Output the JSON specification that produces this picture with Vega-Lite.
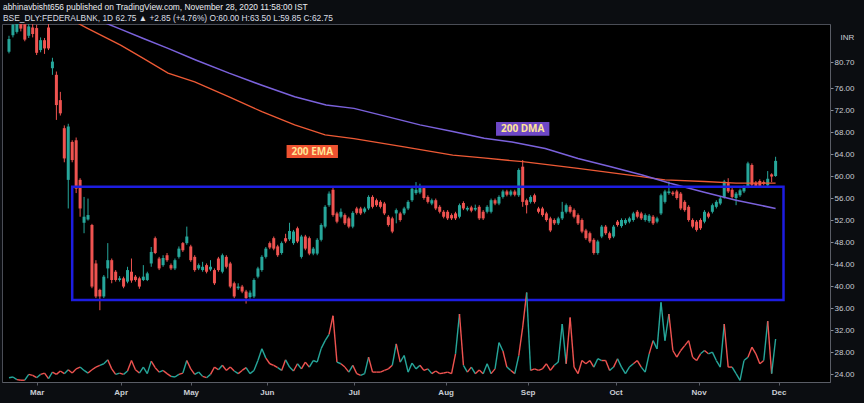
{
  "$schema": "https://vega.github.io/schema/vega-lite/v6.json",
  "width": 828,
  "height": 358,
  "autosize": {"type": "none"},
  "padding": {"left": 2, "top": 24, "right": 34, "bottom": 21},
  "background": "#0b0d11",
  "config": {
    "view": {"fill": "#000000", "stroke": "#4a4d56", "strokeWidth": 1},
    "font": "Liberation Sans"
  },
  "title": {
    "text": "abhinavbisht656 published on TradingView.com, November 28, 2020 11:58:00 IST",
    "subtitle": "BSE_DLY:FEDERALBNK, 1D 62.75 ▲ +2.85 (+4.76%) O:60.00 H:63.50 L:59.85 C:62.75",
    "anchor": "start",
    "frame": "group",
    "offset": 2,
    "dx": 1,
    "font": "Liberation Sans",
    "subtitleFont": "Liberation Sans",
    "fontSize": 8.4,
    "subtitleFontSize": 8.4,
    "fontWeight": "normal",
    "color": "#eceef2",
    "subtitleColor": "#dcdfe5",
    "subtitlePadding": 2
  },
  "datasets": {
    "bars": [
      {"i":0,"o":82.6,"h":85.5,"l":82.3,"c":84.9,"v":0.36,"d":"u"},
      {"i":1,"o":85.6,"h":88.5,"l":85.2,"c":87.5,"v":0.42,"d":"u"},
      {"i":2,"o":86.2,"h":88.8,"l":85.9,"c":87.8,"v":0.2,"d":"u"},
      {"i":3,"o":87.9,"h":88.6,"l":86.3,"c":86.8,"v":0.15,"d":"d"},
      {"i":4,"o":87.6,"h":88.0,"l":84.5,"c":84.8,"v":0.15,"d":"d"},
      {"i":5,"o":85.5,"h":88.0,"l":85.1,"c":87.2,"v":0.64,"d":"u"},
      {"i":6,"o":87.0,"h":88.2,"l":85.2,"c":85.8,"v":0.55,"d":"d"},
      {"i":7,"o":86.9,"h":87.5,"l":82.0,"c":82.4,"v":0.36,"d":"d"},
      {"i":8,"o":82.9,"h":85.2,"l":82.5,"c":84.7,"v":0.64,"d":"u"},
      {"i":9,"o":84.7,"h":85.1,"l":82.2,"c":83.2,"v":0.75,"d":"d"},
      {"i":10,"o":87.0,"h":87.8,"l":82.9,"c":83.2,"v":0.28,"d":"d"},
      {"i":11,"o":79.6,"h":81.5,"l":78.4,"c":80.8,"v":0.83,"d":"u"},
      {"i":12,"o":78.4,"h":79.0,"l":70.2,"c":72.9,"v":0.64,"d":"d"},
      {"i":13,"o":73.8,"h":75.3,"l":71.0,"c":71.4,"v":0.92,"d":"d"},
      {"i":14,"o":68.7,"h":69.2,"l":62.5,"c":63.2,"v":0.7,"d":"d"},
      {"i":15,"o":59.3,"h":69.5,"l":54.1,"c":69.0,"v":1.03,"d":"u"},
      {"i":16,"o":66.2,"h":66.5,"l":62.5,"c":62.9,"v":0.75,"d":"d"},
      {"i":17,"o":66.5,"h":67.0,"l":56.9,"c":57.7,"v":1.1,"d":"d"},
      {"i":18,"o":59.3,"h":59.6,"l":52.6,"c":54.1,"v":1.25,"d":"d"},
      {"i":19,"o":51.5,"h":56.2,"l":49.6,"c":52.6,"v":0.97,"d":"u"},
      {"i":20,"o":52.1,"h":55.9,"l":51.9,"c":52.9,"v":0.75,"d":"u"},
      {"i":21,"o":51.1,"h":51.3,"l":39.6,"c":39.9,"v":1.03,"d":"d"},
      {"i":22,"o":44.1,"h":44.7,"l":37.8,"c":38.1,"v":1.25,"d":"d"},
      {"i":23,"o":39.3,"h":39.5,"l":35.6,"c":38.1,"v":1.4,"d":"d"},
      {"i":24,"o":38.1,"h":42.0,"l":37.8,"c":41.7,"v":1.53,"d":"u"},
      {"i":25,"o":43.2,"h":47.8,"l":41.4,"c":44.7,"v":1.86,"d":"u"},
      {"i":26,"o":44.7,"h":45.0,"l":40.5,"c":41.1,"v":1.1,"d":"d"},
      {"i":27,"o":42.6,"h":42.9,"l":40.8,"c":41.1,"v":0.64,"d":"d"},
      {"i":28,"o":41.1,"h":41.8,"l":40.8,"c":41.4,"v":0.75,"d":"u"},
      {"i":29,"o":41.4,"h":41.7,"l":39.6,"c":39.9,"v":0.64,"d":"d"},
      {"i":30,"o":40.8,"h":43.5,"l":40.5,"c":42.9,"v":0.92,"d":"u"},
      {"i":31,"o":42.6,"h":45.0,"l":40.6,"c":41.0,"v":1.8,"d":"d"},
      {"i":32,"o":41.7,"h":42.0,"l":40.8,"c":41.1,"v":1.03,"d":"d"},
      {"i":33,"o":41.4,"h":41.7,"l":39.5,"c":39.9,"v":0.75,"d":"d"},
      {"i":34,"o":41.1,"h":43.8,"l":40.9,"c":41.7,"v":1.25,"d":"u"},
      {"i":35,"o":41.1,"h":42.6,"l":40.9,"c":42.3,"v":0.7,"d":"u"},
      {"i":36,"o":44.1,"h":47.1,"l":43.5,"c":46.2,"v":1.75,"d":"u"},
      {"i":37,"o":48.7,"h":49.0,"l":45.8,"c":46.0,"v":1.2,"d":"d"},
      {"i":38,"o":45.0,"h":45.3,"l":42.9,"c":43.2,"v":0.83,"d":"d"},
      {"i":39,"o":43.8,"h":45.6,"l":43.5,"c":45.1,"v":0.97,"d":"u"},
      {"i":40,"o":45.6,"h":46.0,"l":44.4,"c":44.7,"v":0.7,"d":"d"},
      {"i":41,"o":43.8,"h":44.1,"l":42.9,"c":43.2,"v":0.47,"d":"d"},
      {"i":42,"o":43.2,"h":45.0,"l":42.9,"c":44.7,"v":0.42,"d":"u"},
      {"i":43,"o":45.3,"h":47.2,"l":45.0,"c":46.8,"v":0.64,"d":"u"},
      {"i":44,"o":47.8,"h":48.0,"l":46.2,"c":46.5,"v":0.75,"d":"d"},
      {"i":45,"o":47.8,"h":50.8,"l":47.5,"c":49.0,"v":1.8,"d":"u"},
      {"i":46,"o":47.2,"h":47.5,"l":44.4,"c":44.7,"v":1.1,"d":"d"},
      {"i":47,"o":45.3,"h":45.6,"l":42.6,"c":42.9,"v":0.64,"d":"d"},
      {"i":48,"o":43.2,"h":44.1,"l":42.9,"c":43.8,"v":0.83,"d":"u"},
      {"i":49,"o":42.9,"h":44.4,"l":42.6,"c":43.5,"v":0.47,"d":"u"},
      {"i":50,"o":43.8,"h":44.1,"l":42.3,"c":42.6,"v":0.36,"d":"d"},
      {"i":51,"o":43.0,"h":44.7,"l":42.7,"c":43.5,"v":0.64,"d":"u"},
      {"i":52,"o":42.9,"h":43.2,"l":40.2,"c":40.5,"v":1.25,"d":"d"},
      {"i":53,"o":45.0,"h":45.3,"l":42.6,"c":42.9,"v":1.03,"d":"d"},
      {"i":54,"o":42.6,"h":45.9,"l":42.3,"c":45.6,"v":1.4,"d":"u"},
      {"i":55,"o":45.3,"h":45.6,"l":43.2,"c":43.5,"v":0.97,"d":"d"},
      {"i":56,"o":44.1,"h":44.4,"l":39.6,"c":39.9,"v":1.25,"d":"d"},
      {"i":57,"o":40.5,"h":40.8,"l":37.8,"c":38.1,"v":0.92,"d":"d"},
      {"i":58,"o":39.6,"h":40.5,"l":39.3,"c":39.9,"v":0.7,"d":"u"},
      {"i":59,"o":39.9,"h":40.2,"l":38.7,"c":39.0,"v":0.97,"d":"d"},
      {"i":60,"o":39.0,"h":39.3,"l":36.8,"c":37.8,"v":1.2,"d":"d"},
      {"i":61,"o":38.0,"h":39.2,"l":37.7,"c":38.8,"v":0.7,"d":"u"},
      {"i":62,"o":38.1,"h":41.4,"l":37.8,"c":41.1,"v":0.97,"d":"u"},
      {"i":63,"o":41.7,"h":43.5,"l":41.4,"c":43.2,"v":1.8,"d":"u"},
      {"i":64,"o":42.9,"h":45.6,"l":42.6,"c":45.3,"v":2.78,"d":"u"},
      {"i":65,"o":45.3,"h":47.1,"l":45.0,"c":46.8,"v":2.0,"d":"u"},
      {"i":66,"o":47.8,"h":48.1,"l":46.7,"c":47.0,"v":1.53,"d":"d"},
      {"i":67,"o":48.7,"h":49.0,"l":46.5,"c":46.8,"v":1.4,"d":"d"},
      {"i":68,"o":47.2,"h":47.5,"l":45.3,"c":45.6,"v":1.2,"d":"d"},
      {"i":69,"o":46.0,"h":48.1,"l":45.7,"c":47.8,"v":0.97,"d":"u"},
      {"i":70,"o":48.7,"h":49.5,"l":47.8,"c":48.1,"v":1.86,"d":"d"},
      {"i":71,"o":48.5,"h":51.5,"l":48.2,"c":50.0,"v":1.25,"d":"u"},
      {"i":72,"o":47.8,"h":50.2,"l":47.5,"c":49.9,"v":0.92,"d":"u"},
      {"i":73,"o":50.5,"h":50.8,"l":47.8,"c":48.1,"v":1.53,"d":"d"},
      {"i":74,"o":45.3,"h":49.3,"l":45.0,"c":49.0,"v":1.1,"d":"u"},
      {"i":75,"o":49.0,"h":49.3,"l":46.5,"c":46.8,"v":1.67,"d":"d"},
      {"i":76,"o":48.7,"h":49.0,"l":45.6,"c":45.9,"v":1.25,"d":"d"},
      {"i":77,"o":45.9,"h":47.1,"l":45.6,"c":46.8,"v":1.8,"d":"u"},
      {"i":78,"o":45.9,"h":48.7,"l":45.6,"c":48.4,"v":1.67,"d":"u"},
      {"i":79,"o":48.4,"h":51.4,"l":48.1,"c":51.1,"v":2.8,"d":"u"},
      {"i":80,"o":50.8,"h":54.7,"l":50.5,"c":54.4,"v":3.47,"d":"u"},
      {"i":81,"o":54.7,"h":57.2,"l":54.4,"c":56.8,"v":4.0,"d":"u"},
      {"i":82,"o":57.5,"h":58.1,"l":52.6,"c":52.9,"v":5.55,"d":"d"},
      {"i":83,"o":53.2,"h":53.5,"l":51.4,"c":51.7,"v":1.67,"d":"d"},
      {"i":84,"o":52.6,"h":54.1,"l":52.3,"c":53.5,"v":1.53,"d":"u"},
      {"i":85,"o":52.9,"h":53.2,"l":51.1,"c":51.4,"v":1.25,"d":"d"},
      {"i":86,"o":52.3,"h":52.6,"l":50.5,"c":50.8,"v":0.83,"d":"d"},
      {"i":87,"o":50.8,"h":53.6,"l":50.5,"c":53.3,"v":1.4,"d":"u"},
      {"i":88,"o":54.1,"h":54.4,"l":53.0,"c":53.3,"v":0.7,"d":"d"},
      {"i":89,"o":54.1,"h":54.4,"l":52.9,"c":53.2,"v":0.55,"d":"d"},
      {"i":90,"o":53.5,"h":54.4,"l":53.2,"c":54.1,"v":0.7,"d":"u"},
      {"i":91,"o":54.1,"h":56.5,"l":53.8,"c":56.2,"v":2.08,"d":"u"},
      {"i":92,"o":56.2,"h":56.5,"l":54.1,"c":54.4,"v":0.83,"d":"d"},
      {"i":93,"o":55.6,"h":55.9,"l":54.4,"c":54.7,"v":0.83,"d":"d"},
      {"i":94,"o":55.3,"h":55.6,"l":54.1,"c":54.4,"v":0.83,"d":"d"},
      {"i":95,"o":55.0,"h":55.3,"l":52.9,"c":53.2,"v":0.97,"d":"d"},
      {"i":96,"o":52.6,"h":52.9,"l":50.8,"c":51.1,"v":1.1,"d":"d"},
      {"i":97,"o":52.3,"h":52.6,"l":49.6,"c":49.9,"v":1.4,"d":"d"},
      {"i":98,"o":53.2,"h":54.1,"l":51.4,"c":53.8,"v":3.2,"d":"u"},
      {"i":99,"o":53.2,"h":53.5,"l":51.7,"c":52.0,"v":1.67,"d":"d"},
      {"i":100,"o":53.2,"h":54.4,"l":52.9,"c":54.1,"v":2.22,"d":"u"},
      {"i":101,"o":54.1,"h":55.6,"l":53.8,"c":55.3,"v":0.83,"d":"u"},
      {"i":102,"o":55.6,"h":58.0,"l":55.3,"c":57.7,"v":1.58,"d":"u"},
      {"i":103,"o":56.9,"h":58.9,"l":56.6,"c":57.5,"v":1.1,"d":"u"},
      {"i":104,"o":57.0,"h":58.6,"l":56.7,"c":57.8,"v":1.4,"d":"u"},
      {"i":105,"o":57.8,"h":58.1,"l":55.7,"c":56.0,"v":0.97,"d":"d"},
      {"i":106,"o":56.2,"h":56.5,"l":55.0,"c":55.3,"v":1.1,"d":"d"},
      {"i":107,"o":55.0,"h":55.9,"l":54.7,"c":55.6,"v":0.7,"d":"u"},
      {"i":108,"o":55.6,"h":55.9,"l":53.8,"c":54.1,"v":0.92,"d":"d"},
      {"i":109,"o":54.4,"h":54.7,"l":53.2,"c":53.5,"v":0.7,"d":"d"},
      {"i":110,"o":53.5,"h":53.8,"l":52.3,"c":52.6,"v":0.75,"d":"d"},
      {"i":111,"o":53.5,"h":53.8,"l":52.0,"c":52.3,"v":0.83,"d":"d"},
      {"i":112,"o":52.9,"h":53.2,"l":52.0,"c":52.3,"v":0.7,"d":"d"},
      {"i":113,"o":53.2,"h":53.5,"l":52.0,"c":52.3,"v":2.36,"d":"d"},
      {"i":114,"o":52.6,"h":55.0,"l":52.3,"c":54.7,"v":5.7,"d":"u"},
      {"i":115,"o":55.1,"h":55.4,"l":53.8,"c":54.1,"v":1.4,"d":"d"},
      {"i":116,"o":53.9,"h":54.5,"l":53.6,"c":54.2,"v":0.83,"d":"u"},
      {"i":117,"o":54.3,"h":54.6,"l":53.4,"c":53.7,"v":1.25,"d":"d"},
      {"i":118,"o":53.9,"h":54.8,"l":53.6,"c":54.2,"v":0.7,"d":"u"},
      {"i":119,"o":54.4,"h":54.7,"l":52.0,"c":52.3,"v":1.0,"d":"d"},
      {"i":120,"o":53.5,"h":53.8,"l":52.0,"c":52.3,"v":0.7,"d":"d"},
      {"i":121,"o":53.5,"h":54.7,"l":53.2,"c":54.4,"v":1.53,"d":"u"},
      {"i":122,"o":53.5,"h":55.9,"l":53.2,"c":55.6,"v":0.7,"d":"u"},
      {"i":123,"o":55.6,"h":55.9,"l":54.7,"c":55.0,"v":1.1,"d":"d"},
      {"i":124,"o":55.0,"h":56.5,"l":54.7,"c":56.2,"v":3.3,"d":"u"},
      {"i":125,"o":56.2,"h":57.5,"l":55.9,"c":57.2,"v":2.6,"d":"u"},
      {"i":126,"o":57.2,"h":57.5,"l":56.3,"c":56.6,"v":1.25,"d":"d"},
      {"i":127,"o":56.6,"h":57.5,"l":56.3,"c":57.2,"v":0.97,"d":"u"},
      {"i":128,"o":57.2,"h":57.5,"l":56.3,"c":56.6,"v":0.7,"d":"d"},
      {"i":129,"o":56.5,"h":61.4,"l":56.2,"c":61.1,"v":2.2,"d":"u"},
      {"i":130,"o":61.7,"h":62.9,"l":54.4,"c":55.3,"v":4.6,"d":"d"},
      {"i":131,"o":55.6,"h":55.9,"l":53.2,"c":54.7,"v":7.5,"d":"d"},
      {"i":132,"o":55.3,"h":56.5,"l":55.0,"c":56.2,"v":0.97,"d":"u"},
      {"i":133,"o":56.5,"h":56.8,"l":55.0,"c":55.3,"v":1.1,"d":"d"},
      {"i":134,"o":54.1,"h":54.4,"l":53.2,"c":53.5,"v":0.97,"d":"d"},
      {"i":135,"o":54.1,"h":54.4,"l":52.6,"c":52.9,"v":1.1,"d":"d"},
      {"i":136,"o":53.2,"h":53.5,"l":51.7,"c":52.0,"v":1.53,"d":"d"},
      {"i":137,"o":52.3,"h":52.6,"l":49.8,"c":50.1,"v":0.97,"d":"d"},
      {"i":138,"o":52.0,"h":52.3,"l":51.1,"c":51.4,"v":1.4,"d":"d"},
      {"i":139,"o":51.4,"h":52.6,"l":51.1,"c":52.3,"v":1.67,"d":"u"},
      {"i":140,"o":52.3,"h":55.3,"l":52.0,"c":53.5,"v":4.86,"d":"u"},
      {"i":141,"o":53.5,"h":55.0,"l":53.2,"c":54.7,"v":1.53,"d":"u"},
      {"i":142,"o":54.4,"h":54.7,"l":53.2,"c":53.5,"v":5.4,"d":"d"},
      {"i":143,"o":53.8,"h":54.1,"l":52.3,"c":52.6,"v":1.25,"d":"d"},
      {"i":144,"o":52.9,"h":53.2,"l":51.1,"c":51.4,"v":0.7,"d":"d"},
      {"i":145,"o":52.0,"h":52.3,"l":49.6,"c":49.9,"v":1.8,"d":"d"},
      {"i":146,"o":50.1,"h":50.4,"l":48.4,"c":48.7,"v":1.53,"d":"d"},
      {"i":147,"o":49.6,"h":49.9,"l":47.8,"c":48.1,"v":1.8,"d":"d"},
      {"i":148,"o":48.4,"h":48.7,"l":45.7,"c":46.0,"v":1.25,"d":"d"},
      {"i":149,"o":46.0,"h":48.4,"l":45.7,"c":48.1,"v":1.95,"d":"u"},
      {"i":150,"o":49.0,"h":51.1,"l":48.7,"c":50.8,"v":1.8,"d":"u"},
      {"i":151,"o":50.8,"h":51.1,"l":49.3,"c":49.6,"v":1.8,"d":"d"},
      {"i":152,"o":49.6,"h":49.9,"l":48.4,"c":48.7,"v":0.97,"d":"d"},
      {"i":153,"o":49.0,"h":51.1,"l":48.7,"c":50.8,"v":1.25,"d":"u"},
      {"i":154,"o":51.7,"h":52.0,"l":50.8,"c":51.1,"v":1.95,"d":"d"},
      {"i":155,"o":50.9,"h":52.3,"l":50.6,"c":52.0,"v":1.25,"d":"u"},
      {"i":156,"o":51.4,"h":52.3,"l":51.1,"c":52.0,"v":0.7,"d":"u"},
      {"i":157,"o":51.7,"h":52.6,"l":51.4,"c":52.3,"v":1.25,"d":"u"},
      {"i":158,"o":52.0,"h":53.5,"l":51.7,"c":53.2,"v":1.53,"d":"u"},
      {"i":159,"o":53.5,"h":53.8,"l":52.3,"c":52.6,"v":1.8,"d":"d"},
      {"i":160,"o":53.2,"h":53.5,"l":52.0,"c":52.3,"v":1.25,"d":"d"},
      {"i":161,"o":52.0,"h":53.2,"l":51.7,"c":52.9,"v":0.83,"d":"u"},
      {"i":162,"o":51.8,"h":53.1,"l":51.5,"c":52.8,"v":2.36,"d":"u"},
      {"i":163,"o":52.6,"h":52.9,"l":51.1,"c":51.4,"v":3.47,"d":"d"},
      {"i":164,"o":51.7,"h":52.6,"l":51.4,"c":52.3,"v":2.78,"d":"u"},
      {"i":165,"o":53.2,"h":56.8,"l":52.9,"c":56.5,"v":6.67,"d":"u"},
      {"i":166,"o":55.3,"h":57.5,"l":55.0,"c":57.2,"v":3.47,"d":"u"},
      {"i":167,"o":56.9,"h":59.0,"l":56.6,"c":57.2,"v":5.7,"d":"u"},
      {"i":168,"o":57.0,"h":57.3,"l":56.4,"c":56.7,"v":2.64,"d":"d"},
      {"i":169,"o":57.2,"h":57.5,"l":55.7,"c":56.0,"v":2.08,"d":"d"},
      {"i":170,"o":56.8,"h":57.1,"l":53.8,"c":54.1,"v":2.64,"d":"d"},
      {"i":171,"o":55.3,"h":55.6,"l":53.5,"c":53.8,"v":3.05,"d":"d"},
      {"i":172,"o":54.4,"h":54.7,"l":51.7,"c":52.0,"v":3.47,"d":"d"},
      {"i":173,"o":52.0,"h":52.3,"l":50.5,"c":50.8,"v":2.08,"d":"d"},
      {"i":174,"o":51.7,"h":52.0,"l":49.9,"c":50.2,"v":1.8,"d":"d"},
      {"i":175,"o":52.0,"h":52.3,"l":50.2,"c":50.5,"v":2.36,"d":"d"},
      {"i":176,"o":51.7,"h":53.8,"l":51.4,"c":53.5,"v":2.64,"d":"u"},
      {"i":177,"o":53.2,"h":53.5,"l":52.3,"c":52.6,"v":2.36,"d":"d"},
      {"i":178,"o":53.5,"h":55.0,"l":53.2,"c":54.7,"v":2.5,"d":"u"},
      {"i":179,"o":54.4,"h":55.6,"l":54.1,"c":55.3,"v":1.8,"d":"u"},
      {"i":180,"o":55.0,"h":56.2,"l":54.7,"c":55.9,"v":1.25,"d":"u"},
      {"i":181,"o":56.2,"h":59.3,"l":55.9,"c":59.0,"v":4.86,"d":"u"},
      {"i":182,"o":58.7,"h":59.6,"l":56.9,"c":57.2,"v":1.25,"d":"d"},
      {"i":183,"o":57.5,"h":57.8,"l":55.9,"c":56.2,"v":1.25,"d":"d"},
      {"i":184,"o":56.0,"h":57.1,"l":54.7,"c":56.8,"v":0.7,"d":"u"},
      {"i":185,"o":56.5,"h":57.7,"l":56.2,"c":57.4,"v":0.14,"d":"u"},
      {"i":186,"o":57.2,"h":58.3,"l":56.9,"c":58.0,"v":1.8,"d":"u"},
      {"i":187,"o":58.1,"h":62.6,"l":57.8,"c":62.3,"v":2.08,"d":"u"},
      {"i":188,"o":62.0,"h":62.3,"l":58.1,"c":58.4,"v":2.92,"d":"d"},
      {"i":189,"o":58.8,"h":59.1,"l":57.9,"c":58.2,"v":2.36,"d":"d"},
      {"i":190,"o":59.1,"h":59.4,"l":57.9,"c":58.2,"v":1.53,"d":"d"},
      {"i":191,"o":58.9,"h":59.2,"l":58.3,"c":58.6,"v":1.8,"d":"d"},
      {"i":192,"o":58.3,"h":60.9,"l":58.0,"c":59.5,"v":5.1,"d":"u"},
      {"i":193,"o":60.3,"h":60.5,"l":58.9,"c":59.9,"v":0.7,"d":"d"},
      {"i":194,"o":60.0,"h":63.5,"l":59.85,"c":62.75,"v":3.6,"d":"u"}
    ],
    "ema": [
      {"i":15,"p":88.7},{"i":19.75,"p":86.9},{"i":28.25,"p":83.8},{"i":34,"p":81.4},{"i":40.25,"p":78.7},
      {"i":47,"p":77.1},{"i":55.7,"p":74.4},{"i":64,"p":71.7},{"i":72.3,"p":69.3},{"i":80,"p":67.5},
      {"i":87.3,"p":66.8},{"i":100,"p":65.3},{"i":112.3,"p":63.8},{"i":120,"p":63.3},{"i":130,"p":62.6},
      {"i":144,"p":61.4},{"i":160,"p":59.9},{"i":166,"p":59.3},{"i":176,"p":59.0},{"i":184,"p":58.7},{"i":194,"p":58.7}
    ],
    "dma": [
      {"i":22,"p":88.5},{"i":27.75,"p":86.85},{"i":34,"p":85.0},{"i":40.25,"p":83.2},{"i":47.25,"p":81.1},
      {"i":55.7,"p":78.7},{"i":64,"p":76.5},{"i":72.3,"p":74.4},{"i":80.25,"p":72.9},{"i":87.3,"p":72.3},
      {"i":95.7,"p":70.8},{"i":104,"p":69.3},{"i":112.3,"p":68.1},{"i":120.25,"p":66.85},{"i":127.3,"p":66.2},
      {"i":135.7,"p":65.0},{"i":144,"p":63.2},{"i":152.3,"p":61.7},{"i":160.25,"p":60.2},{"i":167.3,"p":58.7},
      {"i":175.7,"p":57.1},{"i":184,"p":55.6},{"i":194,"p":54.1}
    ],
    "box": [{"x1":16,"x2":196,"p1":37.45,"p2":58.05}],
    "tags": [
      {"t":"200 EMA","x1":70.25,"x2":83.25,"p1":63.27,"p2":65.64,"xc":76.75,"pc":64.45},
      {"t":"200 DMA","x1":123.25,"x2":136.75,"p1":67.3,"p2":69.8,"xc":130,"pc":68.55}
    ]
  },
  "encoding": {
    "x": {
      "type": "quantitative",
      "scale": {"domain": [-0.5, 206.5], "nice": false, "zero": false},
      "axis": {
        "values": [7, 28.25, 46, 65.25, 87.25, 110.5, 131.25, 153.5, 174.5, 194.75],
        "labelExpr": "datum.value < 10 ? 'Mar' : datum.value < 30 ? 'Apr' : datum.value < 50 ? 'May' : datum.value < 70 ? 'Jun' : datum.value < 90 ? 'Jul' : datum.value < 120 ? 'Aug' : datum.value < 140 ? 'Sep' : datum.value < 160 ? 'Oct' : datum.value < 180 ? 'Nov' : 'Dec'",
        "title": null,
        "grid": false,
        "domainColor": "#5a5d66",
        "tickColor": "#5a5d66",
        "tickSize": 3,
        "labelColor": "#c9ccd3",
        "labelFontSize": 8,
        "labelFontWeight": "bold",
        "labelFont": "Liberation Sans",
        "labelPadding": 3,
        "labelFlush": false,
        "labelOverlap": false
      }
    }
  },
  "layer": [
    {
      "data": {"name": "bars"},
      "mark": {"type": "rule", "strokeWidth": 1, "clip": true},
      "encoding": {
        "x": {"field": "i", "type": "quantitative"},
        "y": {
          "field": "l", "type": "quantitative",
          "scale": {"domain": [22.55, 87.64], "nice": false, "zero": false},
          "axis": {
            "orient": "right",
            "values": [24, 28, 32, 36, 40, 44, 48, 52, 56, 60, 64, 68, 72, 76, 80.7],
            "format": ".2f",
            "grid": false,
            "domainColor": "#5a5d66",
            "tickColor": "#8a8d96",
            "tickSize": 3,
            "labelColor": "#c9ccd3",
            "labelFontSize": 8,
            "labelPadding": 1,
            "labelFlush": false,
            "labelOverlap": false,
            "title": "INR",
            "titleAngle": 0,
            "titleX": 17,
            "titleY": 13,
            "titleAlign": "center",
            "titleBaseline": "middle",
            "titleFontSize": 8,
            "titleFontWeight": "normal",
            "titleColor": "#c9ccd3"
          }
        },
        "y2": {"field": "h"},
        "color": {
          "field": "d", "type": "nominal",
          "scale": {"domain": ["u", "d"], "range": ["#26a69a", "#ef5350"]},
          "legend": null
        }
      }
    },
    {
      "data": {"name": "bars"},
      "mark": {"type": "bar", "size": 3, "clip": true},
      "encoding": {
        "x": {"field": "i", "type": "quantitative"},
        "y": {"field": "o", "type": "quantitative", "scale": {"domain": [22.55, 87.64], "nice": false, "zero": false}, "axis": null},
        "y2": {"field": "c"},
        "color": {"field": "d", "type": "nominal", "scale": {"domain": ["u", "d"], "range": ["#26a69a", "#ef5350"]}, "legend": null}
      }
    },
    {
      "data": {"name": "ema"},
      "mark": {"type": "line", "color": "#ee5a35", "strokeWidth": 1.3, "clip": true},
      "encoding": {
        "x": {"field": "i", "type": "quantitative"},
        "y": {"field": "p", "type": "quantitative", "scale": {"domain": [22.55, 87.64], "nice": false, "zero": false}, "axis": null}
      }
    },
    {
      "data": {"name": "dma"},
      "mark": {"type": "line", "color": "#7b62dc", "strokeWidth": 1.5, "clip": true},
      "encoding": {
        "x": {"field": "i", "type": "quantitative"},
        "y": {"field": "p", "type": "quantitative", "scale": {"domain": [22.55, 87.64], "nice": false, "zero": false}, "axis": null}
      }
    },
    {
      "data": {"name": "box"},
      "mark": {"type": "rect", "fill": null, "fillOpacity": 0, "stroke": "#1d1de0", "strokeWidth": 2.5},
      "encoding": {
        "x": {"field": "x1", "type": "quantitative"},
        "x2": {"field": "x2"},
        "y": {"field": "p1", "type": "quantitative", "scale": {"domain": [22.55, 87.64], "nice": false, "zero": false}, "axis": null},
        "y2": {"field": "p2"}
      }
    },
    {
      "data": {"name": "tags"},
      "mark": {"type": "rect"},
      "encoding": {
        "x": {"field": "x1", "type": "quantitative"},
        "x2": {"field": "x2"},
        "y": {"field": "p1", "type": "quantitative", "scale": {"domain": [22.55, 87.64], "nice": false, "zero": false}, "axis": null},
        "y2": {"field": "p2"},
        "fill": {"field": "t", "type": "nominal", "scale": {"domain": ["200 EMA", "200 DMA"], "range": ["#ee5230", "#6e48c6"]}, "legend": null}
      }
    },
    {
      "data": {"name": "tags"},
      "mark": {"type": "text", "color": "#ffe596", "fontSize": 10, "fontWeight": "bold", "font": "Open Sans", "align": "center", "baseline": "middle"},
      "encoding": {
        "x": {"field": "xc", "type": "quantitative"},
        "y": {"field": "pc", "type": "quantitative", "scale": {"domain": [22.55, 87.64], "nice": false, "zero": false}, "axis": null},
        "text": {"field": "t"}
      }
    },
    {
      "data": {"name": "bars"},
      "transform": [
        {"window": [
          {"op": "lead", "field": "i", "as": "i2"},
          {"op": "lead", "field": "v", "as": "v2"},
          {"op": "lead", "field": "d", "as": "d2"}
        ], "sort": [{"field": "i", "order": "ascending"}]},
        {"filter": "datum.i2 != null"}
      ],
      "mark": {"type": "rule", "strokeWidth": 1.4, "clip": true},
      "encoding": {
        "x": {"field": "i", "type": "quantitative"},
        "x2": {"field": "i2"},
        "y": {"field": "v", "type": "quantitative", "scale": {"domain": [0, 30], "nice": false}, "axis": null},
        "y2": {"field": "v2"},
        "color": {"field": "d2", "type": "nominal", "scale": {"domain": ["u", "d"], "range": ["#26a69a", "#ef5350"]}, "legend": null}
      }
    }
  ],
  "resolve": {"scale": {"y": "independent"}, "axis": {"y": "independent"}}
}
